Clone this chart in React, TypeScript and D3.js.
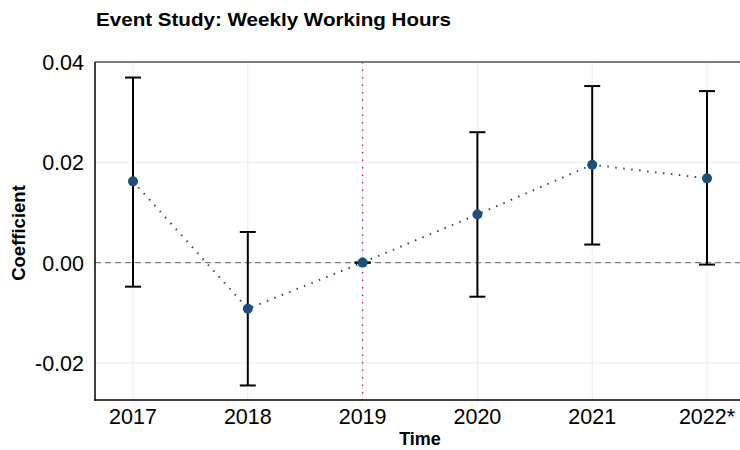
import { useEffect, useRef } from 'react'
import * as d3 from 'd3'

const years = ['2017', '2018', '2019', '2020', '2021', '2022*']
const coef = [0.0162, -0.0092, 0.0, 0.0096, 0.0195, 0.0168]
const ciLow = [-0.0048, -0.0245, 0.0, -0.0068, 0.0036, -0.0004]
const ciHigh = [0.0369, 0.0061, 0.0, 0.026, 0.0352, 0.0342]
const yTicks = [-0.02, 0.0, 0.02, 0.04]
const eventYear = '2019'

export default function App() {
  const svgRef = useRef<SVGSVGElement | null>(null)

  useEffect(() => {
    if (!svgRef.current) return
    const W = 740, H = 450
    const left = 95, right = 740, top = 62, bottom = 400
    const font = "'Liberation Sans', Arial, sans-serif"

    const svg = d3.select(svgRef.current)
    svg.selectAll('*').remove()
    svg.attr('width', W).attr('height', H)

    const data = years.map((y, i) => ({ year: y, c: coef[i], lo: ciLow[i], hi: ciHigh[i] }))

    const x = d3.scalePoint<string>().domain(years).range([133, 707])
    const y = d3.scaleLinear().domain([-0.0274, 0.04]).range([bottom, top])

    // grid
    svg.append('g').selectAll('line')
      .data(years)
      .join('line')
      .attr('x1', d => x(d)!).attr('x2', d => x(d)!)
      .attr('y1', top).attr('y2', bottom)
      .attr('stroke', '#ebebeb').attr('stroke-width', 1)
    svg.append('g').selectAll('line')
      .data(yTicks)
      .join('line')
      .attr('x1', left).attr('x2', right)
      .attr('y1', d => y(d)).attr('y2', d => y(d))
      .attr('stroke', '#ebebeb').attr('stroke-width', 1)

    // zero reference
    svg.append('line')
      .attr('x1', left).attr('x2', right)
      .attr('y1', y(0)).attr('y2', y(0))
      .attr('stroke', '#808080').attr('stroke-width', 1.2)
      .attr('stroke-dasharray', '6,4')

    // event line
    svg.append('line')
      .attr('x1', x(eventYear)!).attr('x2', x(eventYear)!)
      .attr('y1', top).attr('y2', bottom)
      .attr('stroke', '#cc2a2a').attr('stroke-width', 1.4)
      .attr('stroke-dasharray', '1.5,6')

    // connecting dotted line
    const line = d3.line<typeof data[0]>().x(d => x(d.year)!).y(d => y(d.c))
    svg.append('path')
      .datum(data)
      .attr('d', line)
      .attr('fill', 'none')
      .attr('stroke', '#1f4e79').attr('stroke-width', 2)
      .attr('stroke-dasharray', '1.5,6.5')

    // error bars
    const eb = svg.append('g').attr('stroke', '#000').attr('stroke-width', 2)
    eb.selectAll('.v').data(data).join('line')
      .attr('x1', d => x(d.year)!).attr('x2', d => x(d.year)!)
      .attr('y1', d => y(d.lo)).attr('y2', d => y(d.hi))
    eb.selectAll('.t').data(data).join('line')
      .attr('x1', d => x(d.year)! - 8).attr('x2', d => x(d.year)! + 8)
      .attr('y1', d => y(d.hi)).attr('y2', d => y(d.hi))
    eb.selectAll('.b').data(data).join('line')
      .attr('x1', d => x(d.year)! - 8).attr('x2', d => x(d.year)! + 8)
      .attr('y1', d => y(d.lo)).attr('y2', d => y(d.lo))

    // points
    svg.append('g').selectAll('circle').data(data).join('circle')
      .attr('cx', d => x(d.year)!).attr('cy', d => y(d.c))
      .attr('r', 5).attr('fill', '#1f4e79')

    // frame
    svg.append('line')
      .attr('x1', left).attr('x2', right).attr('y1', top).attr('y2', top)
      .attr('stroke', '#555').attr('stroke-width', 1.5)
    svg.append('line')
      .attr('x1', left).attr('x2', left).attr('y1', top).attr('y2', bottom + 0.75)
      .attr('stroke', '#000').attr('stroke-width', 1.5)
    svg.append('line')
      .attr('x1', left - 0.75).attr('x2', right).attr('y1', bottom).attr('y2', bottom)
      .attr('stroke', '#000').attr('stroke-width', 1.5)

    // tick labels
    svg.append('g').selectAll('text').data(yTicks).join('text')
      .attr('x', 84).attr('y', d => y(d) + 8)
      .attr('text-anchor', 'end')
      .attr('font-family', font).attr('font-size', 21.5).attr('fill', '#000')
      .text(d => d3.format('.2f')(d).replace('−', '-'))
    svg.append('g').selectAll('text').data(years).join('text')
      .attr('x', d => x(d)!).attr('y', 424)
      .attr('text-anchor', 'middle')
      .attr('font-family', font).attr('font-size', 21.5).attr('fill', '#000')
      .text(d => d)

    // titles
    svg.append('text')
      .attr('x', 96).attr('y', 25.5)
      .attr('font-family', font).attr('font-size', 17.5).attr('font-weight', 'bold')
      .attr('textLength', 355).attr('lengthAdjust', 'spacingAndGlyphs')
      .text('Event Study: Weekly Working Hours')
    svg.append('text')
      .attr('x', 420).attr('y', 445)
      .attr('text-anchor', 'middle')
      .attr('font-family', font).attr('font-size', 18).attr('font-weight', 'bold')
      .text('Time')
    svg.append('text')
      .attr('transform', `translate(25,233) rotate(-90)`)
      .attr('text-anchor', 'middle')
      .attr('font-family', font).attr('font-size', 18.5).attr('font-weight', 'bold')
      .text('Coefficient')
  }, [])

  return <svg ref={svgRef} style={{ position: 'absolute', left: 0, top: 0, background: '#fff' }} />
}
